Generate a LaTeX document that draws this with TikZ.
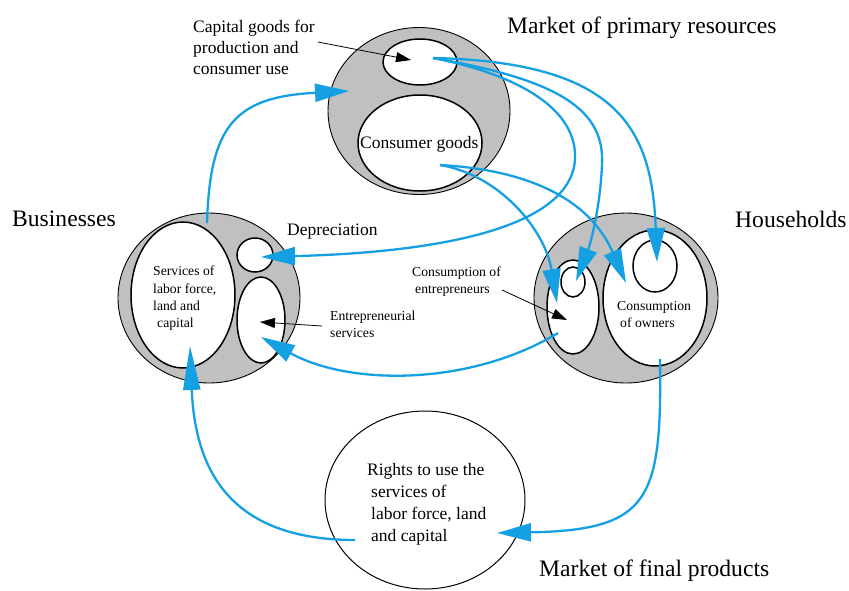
\documentclass[tikz,border=0pt]{standalone}
\usepackage{fontspec}
\setmainfont{Liberation Serif}
\usetikzlibrary{shapes.geometric,arrows.meta}
\definecolor{flow}{RGB}{20,160,226}
\definecolor{shade}{RGB}{192,192,192}
\begin{document}
\begin{tikzpicture}[x=1pt,y=-1pt,
 outer/.style={ellipse,draw=black,line width=0.9pt,fill=shade,inner sep=0pt},
 inner/.style={ellipse,draw=black,line width=1.5pt,fill=white,inner sep=0pt},
 plain/.style={ellipse,draw=black,line width=1pt,fill=white,inner sep=0pt},
 flowarrow/.style={draw=flow,line width=2.3pt,-{Triangle[length=34pt,width=18pt]}},
 longflow/.style={draw=flow,line width=2.3pt,-{Triangle[length=44pt,width=17pt]}},
 pointer/.style={draw=black,line width=0.8pt,-{Triangle[length=15pt,width=10pt]}},
 big/.style={font=\fontsize{23.6}{28}\selectfont,inner sep=0pt,anchor=base west},
 mid/.style={font=\fontsize{17.5}{21}\selectfont,inner sep=0pt,anchor=base west},
 small/.style={font=\fontsize{13.7}{17}\selectfont,inner sep=0pt,anchor=base west}]
\useasboundingbox (0,0) rectangle (849,590);

% Market of primary resources
\node[outer,minimum width=182pt,minimum height=167pt] (mpr) at (419,111) {};
\node[inner,minimum width=74pt,minimum height=46pt] (capg) at (420,62) {};
\node[inner,minimum width=124pt,minimum height=96pt] (cong) at (420,143) {};

% Businesses
\node[outer,minimum width=182pt,minimum height=170pt] (bus) at (209,298) {};
\node[inner,minimum width=104pt,minimum height=146pt] (serv) at (183,295) {};
\node[inner,minimum width=36pt,minimum height=34pt] (depr) at (255,255) {};
\node[inner,minimum width=48pt,minimum height=86pt] (entr) at (261,320) {};

% Households
\node[outer,minimum width=184pt,minimum height=170pt] (hh) at (626,298) {};
\node[inner,minimum width=52pt,minimum height=94pt] (ce) at (573,307) {};
\node[inner,minimum width=24pt,minimum height=30pt] (cesmall) at (573,282) {};
\node[inner,minimum width=104pt,minimum height=136pt] (co) at (655,298) {};
\node[inner,minimum width=44pt,minimum height=52pt] (cosmall) at (655,266) {};

% Market of final products
\node[plain,minimum width=200pt,minimum height=178pt] (mfp) at (425,500) {};

% Labels
\node[big] (lmpr) at (507,33) {Market of primary resources};
\node[big] (lbus) at (12,226) {Businesses};
\node[big] (lhh) at (735,227) {Households};
\node[big] (lmfp) at (539,576) {Market of final products};
\node[mid] (lcap1) at (193,32) {Capital goods for};
\node[mid] (lcap2) at (193,53) {production and};
\node[mid] (lcap3) at (193,74) {consumer use};
\node[mid] (ldep) at (287,235) {Depreciation};
\node[mid] (lcon) at (360,148) {Consumer goods};
\node[small] (lser1) at (153,275) {Services of};
\node[small] (lser2) at (153,293) {labor force,};
\node[small] (lser3) at (153,310) {land and};
\node[small] (lser4) at (157,327) {capital};
\node[small] (lent1) at (330,320) {Entrepreneurial};
\node[small] (lent2) at (330,337) {services};
\node[small] (lce1) at (412,276) {Consumption of};
\node[small] (lce2) at (415,293) {entrepreneurs};
\node[small] (lco1) at (617,310) {Consumption};
\node[small] (lco2) at (620,327) {of owners};
\node[mid] (lr1) at (367,475) {Rights to use the};
\node[mid] (lr2) at (371,497) {services of};
\node[mid] (lr3) at (371,519) {labor force, land};
\node[mid] (lr4) at (371,541) {and capital};

% Connector end points
\coordinate (busOut) at (207,223);
\coordinate (mprIn) at (349,91);
\coordinate (capS) at (433,58);
\coordinate (conS) at (440,165);
\coordinate (deprIn) at (261,257);
\coordinate (cesIn) at (576,281);
\coordinate (cosIn) at (657,262);
\coordinate (ceIn) at (557,303);
\coordinate (coIn) at (626,283);
\coordinate (ceOut) at (558,333);
\coordinate (entrIn) at (261,337);
\coordinate (coOut) at (660,359);
\coordinate (mfpIn) at (497,533);
\coordinate (mfpOut) at (355,540);
\coordinate (servIn) at (190,346);
\coordinate (capP) at (318,42);
\coordinate (capT) at (411,60);
\coordinate (entP) at (322,326);
\coordinate (entT) at (260,322);
\coordinate (ceP) at (502,290);
\coordinate (ceT) at (567,320);

% Blue flows
\draw[flowarrow] (busOut) .. controls (210,125) and (235,97) .. (mprIn);
\draw[flowarrow] (capS) .. controls (520,75) and (578,110) .. (575,160)
  .. controls (570,225) and (450,252) .. (deprIn);
\draw[flowarrow] (capS) .. controls (560,80) and (605,110) .. (602,165)
  .. controls (600,210) and (590,245) .. (cesIn);
\draw[flowarrow] (capS) .. controls (620,62) and (652,130) .. (cosIn);
\draw[flowarrow] (conS) .. controls (500,175) and (545,230) .. (ceIn);
\draw[flowarrow] (conS) .. controls (530,170) and (590,200) .. (coIn);
\draw[flowarrow] (ceOut) .. controls (470,386) and (350,386) .. (entrIn);
\draw[flowarrow] (coOut) .. controls (662,500) and (650,530) .. (mfpIn);
\draw[longflow] (mfpOut) .. controls (230,540) and (195,470) .. (servIn);

% Black pointers
\draw[pointer] (capP) -- (capT);
\draw[pointer] (entP) -- (entT);
\draw[pointer] (ceP) -- (ceT);
\end{tikzpicture}
\end{document}
